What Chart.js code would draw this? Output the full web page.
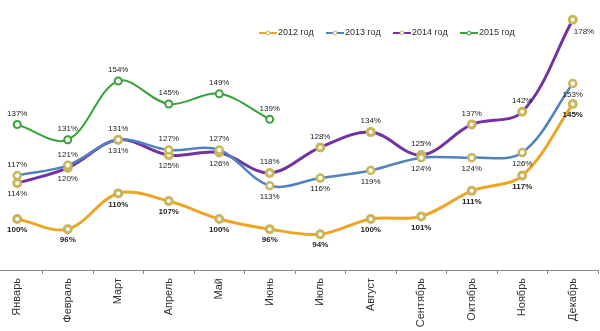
<!DOCTYPE html>
<html>
<head>
<meta charset="utf-8">
<script src="https://cdn.jsdelivr.net/npm/chart.js@4.4.0/dist/chart.umd.min.js"></script>
<style>
  html, body { margin: 0; padding: 0; background: #fff; overflow: hidden; }
  #wrap { position: absolute; left: -15px; top: 0; width: 620px; height: 331px; }
</style>
</head>
<body>
<div id="wrap"><canvas id="grafico" width="620" height="331"></canvas></div>
<script>
const meses = ['Январь', 'Февраль', 'Март', 'Апрель', 'Май', 'Июнь', 'Июль', 'Август', 'Сентябрь', 'Октябрь', 'Ноябрь', 'Декабрь'];
const anios = ['2012 год', '2013 год', '2014 год', '2015 год'];
const datos2012 = [100, 96, 110, 107, 100, 96, 94, 100, 101, 111, 117, 145];
const datos2013 = [117, 121, 131, 127, 127, 113, 116, 119, 124, 124, 126, 153];
const datos2014 = [114, 120, 131, 125, 126, 118, 128, 134, 125, 137, 142, 178];
const datos2015 = [137, 131, 154, 145, 149, 139];

// donde va cada etiqueta respecto al punto
const pos2012 = Array(12).fill('abajo');
const pos2013 = ['arriba', 'arriba', 'arriba', 'arriba', 'arriba', 'abajo', 'abajo', 'abajo', 'abajo', 'abajo', 'abajo', 'abajo'];
const pos2014 = ['abajo', 'abajo', 'abajo', 'abajo', 'abajo', 'arriba', 'arriba', 'arriba', 'arriba', 'arriba', 'arriba', 'derecha'];
const pos2015 = Array(6).fill('arriba');

const etiquetas = {
    id: 'etiquetas',
    afterDatasetsDraw(chart) {
        const ctx = chart.ctx;
        ctx.save();
        chart.data.datasets.forEach((ds, i) => {
            const meta = chart.getDatasetMeta(i);
            ctx.font = ds.fuente;
            ctx.fillStyle = '#222';
            ctx.textBaseline = 'middle';
            meta.data.forEach((p, j) => {
                const txt = ds.data[j] + '%';
                const pos = ds.posiciones[j];
                if (pos === 'derecha') {
                    ctx.textAlign = 'left';
                    ctx.fillText(txt, p.x + 1, p.y + 12);
                } else {
                    ctx.textAlign = 'center';
                    ctx.fillText(txt, p.x, pos === 'arriba' ? p.y - 11 : p.y + 11);
                }
            });
        });
        ctx.restore();
    }
};

const leyenda = {
    id: 'leyenda',
    afterDraw(chart) {
        const ctx = chart.ctx;
        ctx.save();
        chart.data.datasets.forEach((ds, i) => {
            const x = 274 + i * 67;
            const y = 33;
            ctx.strokeStyle = ds.borderColor;
            ctx.lineWidth = 2;
            ctx.beginPath();
            ctx.moveTo(x, y);
            ctx.lineTo(x + 18, y);
            ctx.stroke();
            ctx.fillStyle = '#fff';
            ctx.lineWidth = 1;
            ctx.strokeStyle = ds.pointBorderColor;
            ctx.beginPath();
            ctx.arc(x + 9, y, 2, 0, Math.PI * 2);
            ctx.fill();
            ctx.stroke();
            ctx.fillStyle = '#2b2b2b';
            ctx.font = '9px "Liberation Sans", Arial, sans-serif';
            ctx.textAlign = 'left';
            ctx.textBaseline = 'middle';
            ctx.fillText(ds.label, x + 19, y);
        });
        ctx.restore();
    }
};

const fuente = '8px "Liberation Sans", Arial, sans-serif';
const fuenteNegrita = 'bold 8px "Liberation Sans", Arial, sans-serif';

const grafico = new Chart(document.getElementById('grafico').getContext('2d'), {
    type: 'line',
    data: {
        labels: meses,
        datasets: [{
            label: anios[0],
            data: datos2012,
            borderColor: '#EEA526',
            borderWidth: 3,
            pointBackgroundColor: '#FFFEF4',
            pointBorderColor: '#C9B55E',
            posiciones: pos2012,
            fuente: fuenteNegrita
        }, {
            label: anios[1],
            data: datos2013,
            borderColor: '#4F82BE',
            borderWidth: 2.5,
            pointBackgroundColor: '#FFFEF4',
            pointBorderColor: '#C9B55E',
            posiciones: pos2013,
            fuente: fuente
        }, {
            label: anios[2],
            data: datos2014,
            borderColor: '#7233A2',
            borderWidth: 3,
            pointBackgroundColor: '#FFFEF4',
            pointBorderColor: '#C9B55E',
            posiciones: pos2014,
            fuente: fuente
        }, {
            label: anios[3],
            data: datos2015,
            borderColor: '#38A23A',
            borderWidth: 2,
            pointBackgroundColor: '#FFFFFF',
            pointBorderColor: '#38A23A',
            posiciones: pos2015,
            fuente: fuente
        }]
    },
    options: {
        responsive: false,
        animation: false,
        layout: { padding: 0 },
        elements: {
            line: { tension: 0.35 },
            point: { radius: 3.5, borderWidth: 1 }
        },
        plugins: {
            legend: { display: false },
            tooltip: { enabled: false }
        },
        scales: {
            x: {
                offset: true,
                afterFit: (s) => { s.height = 61; },
                border: { color: '#8a8a8a', width: 1 },
                grid: { offset: true, drawOnChartArea: false, tickLength: 4, color: '#8a8a8a' },
                ticks: {
                    minRotation: 90,
                    maxRotation: 90,
                    padding: 4,
                    color: '#333',
                    font: { family: '"Liberation Sans", Arial, sans-serif', size: 11 }
                }
            },
            y: {
                display: false,
                min: 80,
                max: 183
            }
        }
    },
    plugins: [etiquetas, leyenda]
});
</script>
</body>
</html>
